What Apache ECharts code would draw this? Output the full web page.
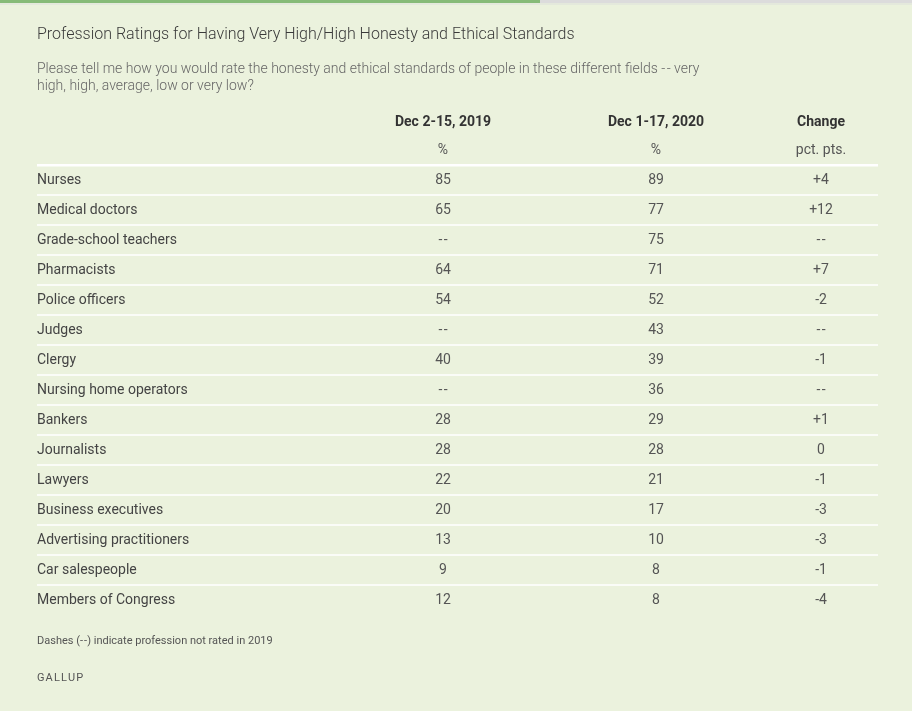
<!DOCTYPE html>
<html>
<head>
<meta charset="utf-8">
<script src="https://cdn.jsdelivr.net/npm/echarts@6/dist/echarts.min.js"></script>
<style>
  html, body { margin: 0; padding: 0; background: #ebf2dd; }
  #main { width: 912px; height: 711px; }
</style>
</head>
<body>
<div id="main"></div>
<script>
const professions = [
  'Nurses', 'Medical doctors', 'Grade-school teachers', 'Pharmacists',
  'Police officers', 'Judges', 'Clergy', 'Nursing home operators',
  'Bankers', 'Journalists', 'Lawyers', 'Business executives',
  'Advertising practitioners', 'Car salespeople', 'Members of Congress'
]
const pct2019 = [85, 65, null, 64, 54, null, 40, null, 28, 28, 22, 20, 13, 9, 12]
const pct2020 = [89, 77, 75, 71, 52, 43, 39, 36, 29, 28, 21, 17, 10, 8, 8]
const change = [4, 12, null, 7, -2, null, -1, null, 1, 0, -1, -3, -3, -1, -4]
const headers = ['', 'Dec 2-15, 2019', 'Dec 1-17, 2020', 'Change']
const units = ['', '%', '%', 'pct. pts.']

// column anchors in table px (0 = left edge of table)
const colX = [0, 406, 619, 784]
const font = 'Roboto, "Noto Sans", sans-serif'
const DASH = '-\u200A-'

const fmtPct = v => (v === null ? DASH : String(v))
const fmtChange = v => (v === null ? DASH : v > 0 ? '+' + v : String(v))

const myChart = echarts.init(document.getElementById('main'), null, { renderer: 'canvas' })

myChart.setOption({
  backgroundColor: '#ebf2dd',
  animation: false,
  grid: { left: 37, right: 34, top: 165, bottom: 96 },
  xAxis: { type: 'value', min: 0, max: 841, show: false },
  yAxis: { type: 'category', data: professions, inverse: true, show: false },
  graphic: [
    { type: 'rect', left: 0, top: 0, shape: { width: 912, height: 3 }, style: { fill: '#dcdcdc' } },
    { type: 'rect', left: 0, top: 3, shape: { width: 912, height: 2 }, style: { fill: '#e4e9dc' } },
    { type: 'rect', left: 0, top: 0, shape: { width: 540, height: 3 }, style: { fill: '#86bb78' } },
    {
      type: 'text', left: 37, top: 27,
      style: { text: 'Profession Ratings for Having Very High/High Honesty and Ethical Standards', font: '300 16px ' + font, fill: '#3a3a3a' }
    },
    {
      type: 'text', left: 37, top: 61,
      style: {
        text: 'Please tell me how you would rate the honesty and ethical standards of people in these different fields ' + DASH + ' very\nhigh, high, average, low or very low?',
        font: '300 14px ' + font, fill: '#666', lineHeight: 17
      }
    },
    {
      type: 'text', left: 37, top: 636,
      style: { text: 'Dashes (' + DASH + ') indicate profession not rated in 2019', font: '11px ' + font, fill: '#555' }
    },
    {
      type: 'text', left: 37, top: 673,
      style: { text: 'G\u200AA\u200AL\u200AL\u200AU\u200AP', font: '11px ' + font, fill: '#555' }
    },
    { type: 'rect', left: 37, top: 164, shape: { width: 841, height: 2.5 }, style: { fill: '#ffffff' } }
  ].concat(headers.slice(1).map((h, i) => ({
    type: 'text', x: 37 + colX[i + 1], y: 122,
    style: { text: h, font: 'bold 14px ' + font, fill: '#333', align: 'center', verticalAlign: 'middle' }
  }))).concat(units.slice(1).map((u, i) => ({
    type: 'text', x: 37 + colX[i + 1], y: 150,
    style: { text: u, font: '14px ' + font, fill: '#555', align: 'center', verticalAlign: 'middle' }
  }))),
  series: [
    {
      type: 'custom',
      data: professions.map((p, i) => [i]),
      renderItem: function (params, api) {
        const i = api.value(0)
        const band = api.size([0, 1])[1]
        const texts = [professions[i], fmtPct(pct2019[i]), fmtPct(pct2020[i]), fmtChange(change[i])]
        const children = texts.map((t, c) => {
          const p = api.coord([colX[c], i])
          return {
            type: 'text',
            x: p[0], y: p[1],
            style: {
              text: t, font: '14px ' + font,
              fill: c === 0 ? '#444' : '#555',
              align: c === 0 ? 'left' : 'center', verticalAlign: 'middle'
            }
          }
        })
        if (i < professions.length - 1) {
          const a = api.coord([0, i])
          const b = api.coord([841, i])
          children.push({
            type: 'line',
            shape: { x1: a[0], y1: a[1] + band / 2, x2: b[0], y2: b[1] + band / 2 },
            style: { stroke: '#ffffff', lineWidth: 1.5 }
          })
        }
        return { type: 'group', children: children }
      }
    }
  ]
})
</script>
</body>
</html>
